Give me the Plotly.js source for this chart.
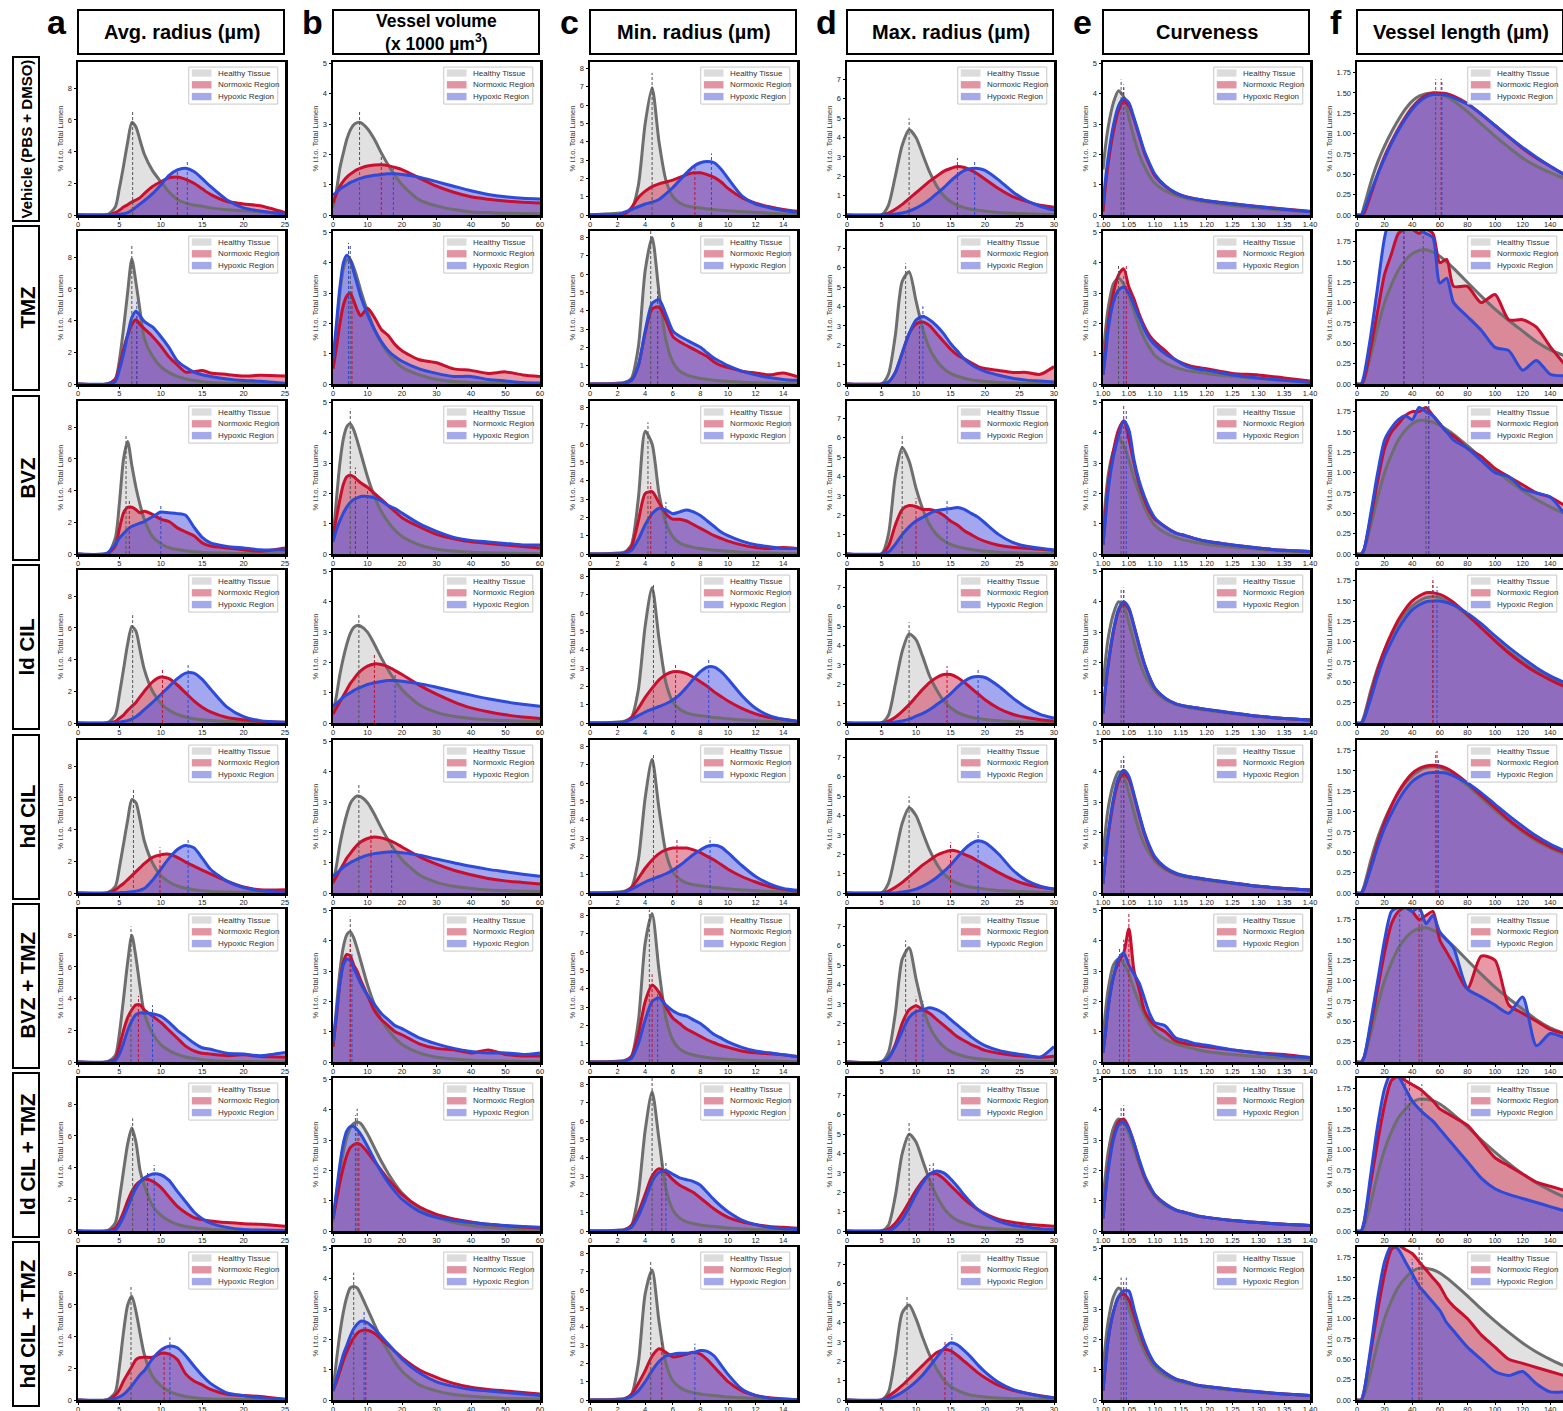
<!DOCTYPE html>
<html><head><meta charset="utf-8">
<script src="https://cdn.plot.ly/plotly-3.0.1.min.js"></script>
<style>html,body{margin:0;padding:0;overflow:hidden;background:#fff}</style>
</head><body><div id="chart"></div>
<script>
// ---------------- labels ----------------
const rowLabels = ["Vehicle (PBS + DMSO)", "TMZ", "BVZ", "ld CIL", "hd CIL", "BVZ + TMZ", "ld CIL + TMZ", "hd CIL + TMZ"];
const colTitles = ["Avg. radius (µm)", "Vessel volume<br>(x 1000 µm<sup>3</sup>)", "Min. radius (µm)", "Max. radius (µm)", "Curveness", "Vessel length (µm)"];
const colLetters = ["a", "b", "c", "d", "e", "f"];
const seriesNames = ["Healthy Tissue", "Normoxic Region", "Hypoxic Region"];
const yTitle = "% i.t.o. Total Lumen";

// ---------------- a: Avg. radius ----------------
const avgRadiusX = [0, 3.5, 4.5, 5, 5.5, 6, 6.5, 7, 7.5, 8, 9, 10, 11, 12, 13, 14, 15, 16, 18, 20, 22, 25];
const avgRadiusHealthy = [
  [0,0,0.5,1.7,3.1,4.6,5.85,5.55,4.7,3.85,2.8,2.1,1.45,0.98,0.75,0.62,0.55,0.45,0.33,0.27,0.2,0.1],
  [0,0,0.3,1.5,3.5,5.8,7.9,6.4,4.6,2.9,1.75,1.1,0.72,0.48,0.32,0.22,0.15,0.1,0.05,0.03,0.02,0.01],
  [0,0,1.0,3.2,6.0,7.1,5.6,4.2,3.1,2.2,1.1,0.65,0.4,0.28,0.2,0.14,0.1,0.08,0.05,0.03,0.02,0.01],
  [0,0,0.5,1.8,3.4,5.0,6.1,5.8,4.6,3.4,2.0,1.25,0.8,0.55,0.38,0.27,0.2,0.15,0.09,0.06,0.04,0.02],
  [0,0,0.4,1.6,3.1,4.6,5.9,5.7,4.6,3.3,1.9,1.1,0.7,0.45,0.3,0.2,0.15,0.1,0.06,0.04,0.03,0.02],
  [0,0,0.4,1.8,4.0,6.3,8.0,6.6,4.7,3.1,1.8,1.1,0.72,0.48,0.32,0.22,0.15,0.1,0.05,0.03,0.02,0.01],
  [0,0,0.5,2.0,3.8,5.5,6.5,5.6,3.8,2.9,1.6,1.0,0.65,0.42,0.28,0.2,0.14,0.1,0.06,0.04,0.03,0.02],
  [0,0,0.5,2.1,4.3,6.0,6.55,5.6,4.2,2.9,1.5,0.9,0.55,0.35,0.22,0.15,0.1,0.07,0.04,0.03,0.02,0.01]
];
const avgRadiusNormoxic = [
  [0,0,0.15,0.3,0.5,0.65,0.82,0.95,1.1,1.35,1.8,2.1,2.35,2.4,2.25,2.0,1.65,1.3,0.85,0.7,0.58,0.15],
  [0,0,0.3,1.1,2.2,3.1,3.75,4.05,3.75,3.5,3.0,2.4,1.7,1.2,0.75,0.78,0.85,0.7,0.6,0.5,0.55,0.5],
  [0,0,0.5,1.6,2.6,2.95,2.95,2.8,2.6,2.7,2.5,2.2,2.05,1.65,1.4,1.15,0.7,0.5,0.38,0.27,0.17,0.38],
  [0,0,0.1,0.3,0.5,0.8,1.05,1.3,1.65,2.0,2.6,2.9,2.8,2.4,1.9,1.4,1.0,0.7,0.35,0.2,0.1,0.05],
  [0,0,0.2,0.4,0.6,0.85,1.1,1.35,1.6,1.85,2.25,2.42,2.45,2.25,1.95,1.7,1.45,1.2,0.75,0.38,0.2,0.2],
  [0,0,0.2,1.0,2.0,2.8,3.3,3.6,3.6,3.3,2.9,2.5,2.0,1.5,1.0,0.7,0.55,0.5,0.4,0.45,0.35,0.3],
  [0,0,0.2,0.6,1.2,1.9,2.5,2.9,3.15,3.28,3.15,2.75,2.15,1.55,1.15,0.85,0.72,0.63,0.53,0.46,0.42,0.3],
  [0,0,0.3,0.65,1.2,1.65,2.1,2.55,2.68,2.7,2.7,2.95,2.9,2.55,1.65,1.2,0.95,0.67,0.36,0.29,0.22,0.05]
];
const avgRadiusHypoxic = [
  [0.02,0.02,0.03,0.05,0.08,0.15,0.3,0.5,0.7,0.9,1.35,1.9,2.5,2.85,2.95,2.75,2.3,1.8,0.95,0.45,0.25,0.05],
  [0,0,0.15,0.9,1.9,3.1,4.2,4.6,4.3,3.95,3.6,3.0,2.3,1.45,1.05,0.75,0.58,0.48,0.32,0.22,0.18,0.05],
  [0,0.05,0.6,1.0,1.3,1.55,1.75,1.85,1.95,2.05,2.35,2.65,2.6,2.55,2.45,1.7,1.05,0.7,0.48,0.38,0.27,0.25],
  [0,0,0.02,0.05,0.1,0.15,0.25,0.4,0.6,0.85,1.3,1.8,2.3,2.8,3.15,3.15,2.75,2.15,1.0,0.4,0.15,0.05],
  [0,0,0,0.02,0.03,0.05,0.08,0.12,0.18,0.28,0.8,1.5,2.2,2.75,3.0,2.85,2.2,1.5,0.75,0.35,0.15,0.05],
  [0,0,0.1,0.5,1.2,2.0,2.6,3.0,3.1,3.1,3.05,2.9,2.5,2.0,1.6,1.2,0.9,0.8,0.55,0.5,0.4,0.6],
  [0,0,0.05,0.4,0.9,1.5,2.15,2.7,3.1,3.35,3.6,3.55,3.2,2.5,1.85,1.2,0.78,0.5,0.23,0.1,0.06,0.03],
  [0,0,0.08,0.2,0.35,0.6,0.9,1.25,1.6,1.85,2.6,3.15,3.4,3.3,2.8,2.15,1.55,1.05,0.45,0.27,0.15,0.04]
];
const avgRadiusMedians = [[6.6,12.0,13.2],[6.5,7.1,7.1],[5.8,6.2,10.0],[6.6,10.2,13.3],[6.7,9.9,13.3],[6.4,7.3,9.0],[6.6,8.4,9.2],[6.4,10.4,11.1]];

// ---------------- b: Vessel volume ----------------
const volumeX = [0, 1, 2, 3, 4, 5, 6, 7, 8, 10, 12, 14, 16, 18, 20, 25, 30, 35, 40, 45, 50, 55, 60];
const volumeHealthy = [
  [0.25,0.8,1.55,2.05,2.5,2.8,2.98,3.05,3.05,2.85,2.5,2.05,1.65,1.3,1.0,0.5,0.3,0.18,0.1,0.08,0.06,0.05,0.04],
  [0.5,1.8,3.0,3.8,4.1,4.1,3.85,3.5,3.1,2.4,1.8,1.35,1.0,0.75,0.55,0.3,0.15,0.08,0.05,0.03,0.02,0.01,0.01],
  [0.5,1.8,3.0,3.8,4.2,4.3,4.1,3.75,3.35,2.55,1.9,1.4,1.05,0.78,0.58,0.3,0.16,0.1,0.06,0.04,0.03,0.02,0.01],
  [0.3,0.9,1.6,2.15,2.6,2.95,3.15,3.22,3.2,3.0,2.6,2.15,1.75,1.4,1.1,0.6,0.35,0.22,0.15,0.1,0.08,0.06,0.05],
  [0.3,0.9,1.6,2.15,2.6,2.95,3.12,3.2,3.18,2.98,2.6,2.15,1.75,1.4,1.1,0.6,0.35,0.22,0.15,0.1,0.08,0.06,0.05],
  [0.5,1.8,3.0,3.8,4.2,4.3,4.1,3.75,3.35,2.55,1.9,1.4,1.05,0.78,0.58,0.3,0.16,0.1,0.06,0.04,0.03,0.02,0.01],
  [0.3,1.2,2.0,2.6,3.1,3.4,3.55,3.6,3.55,3.2,2.75,2.3,1.9,1.55,1.25,0.75,0.45,0.28,0.18,0.12,0.08,0.05,0.04],
  [0.3,1.3,2.2,2.9,3.4,3.7,3.75,3.7,3.5,3.0,2.5,2.0,1.6,1.25,0.95,0.5,0.3,0.18,0.12,0.08,0.05,0.04,0.03]
];
const volumeNormoxic = [
  [0.4,0.7,0.95,1.12,1.25,1.35,1.43,1.5,1.55,1.62,1.65,1.66,1.63,1.57,1.5,1.22,0.95,0.75,0.6,0.52,0.46,0.42,0.4],
  [0.5,1.2,2.0,2.6,2.9,3.0,2.75,2.45,2.25,2.5,2.2,1.8,1.6,1.3,1.1,0.8,0.7,0.5,0.45,0.35,0.4,0.3,0.25],
  [0.6,1.2,1.8,2.3,2.55,2.6,2.55,2.45,2.35,2.2,2.0,1.8,1.6,1.4,1.2,0.9,0.65,0.5,0.4,0.35,0.3,0.25,0.2],
  [0.3,0.5,0.7,0.9,1.1,1.3,1.45,1.6,1.72,1.88,1.95,1.93,1.85,1.73,1.6,1.25,0.95,0.7,0.5,0.37,0.27,0.2,0.15],
  [0.35,0.55,0.75,0.95,1.15,1.3,1.45,1.58,1.68,1.8,1.85,1.82,1.75,1.65,1.52,1.2,0.95,0.75,0.6,0.48,0.4,0.35,0.3],
  [0.5,1.5,2.6,3.3,3.55,3.5,3.2,3.0,2.7,2.2,1.7,1.4,1.2,1.0,0.9,0.6,0.45,0.4,0.3,0.4,0.25,0.2,0.2],
  [0.4,1.0,1.6,2.1,2.5,2.75,2.85,2.9,2.85,2.6,2.3,2.0,1.7,1.45,1.2,0.8,0.55,0.4,0.3,0.22,0.17,0.13,0.1],
  [0.3,0.6,0.95,1.3,1.6,1.85,2.05,2.2,2.28,2.3,2.2,2.0,1.8,1.6,1.4,1.0,0.75,0.55,0.42,0.35,0.3,0.25,0.2]
];
const volumeHypoxic = [
  [0.65,0.75,0.85,0.93,1.0,1.07,1.12,1.17,1.21,1.27,1.31,1.34,1.36,1.36,1.34,1.25,1.1,0.95,0.8,0.68,0.6,0.55,0.53],
  [0.8,2.0,3.2,4.0,4.25,4.1,3.7,3.3,2.9,2.3,1.8,1.4,1.1,0.9,0.75,0.5,0.35,0.25,0.25,0.15,0.1,0.05,0.03],
  [0.4,0.8,1.1,1.35,1.55,1.7,1.8,1.85,1.9,1.9,1.85,1.75,1.6,1.5,1.35,1.0,0.75,0.55,0.45,0.4,0.35,0.3,0.3],
  [0.55,0.65,0.75,0.85,0.93,1.0,1.07,1.13,1.18,1.27,1.33,1.37,1.4,1.4,1.38,1.3,1.18,1.05,0.92,0.8,0.7,0.62,0.55],
  [0.55,0.65,0.75,0.85,0.93,1.0,1.06,1.12,1.17,1.25,1.3,1.33,1.35,1.35,1.33,1.25,1.12,1.0,0.88,0.78,0.7,0.62,0.55],
  [0.6,1.6,2.6,3.2,3.4,3.35,3.1,2.85,2.6,2.2,1.9,1.6,1.4,1.2,1.1,0.8,0.6,0.45,0.35,0.3,0.3,0.25,0.3],
  [0.4,1.3,2.2,2.9,3.3,3.45,3.45,3.35,3.2,2.8,2.35,1.95,1.6,1.3,1.05,0.65,0.45,0.35,0.28,0.22,0.18,0.15,0.12],
  [0.3,0.7,1.1,1.5,1.8,2.1,2.35,2.5,2.6,2.55,2.35,2.1,1.85,1.6,1.35,0.9,0.6,0.45,0.35,0.3,0.25,0.2,0.15]
];
const volumeMedians = [[7.7,14,17.5],[5,5.5,4.5],[5,6.5,10],[7.5,12,18],[7.5,11,17],[5,5,5.5],[7,7.5,6.5],[6,9.5,9]];

// ---------------- c: Min. radius ----------------
const minRadiusX = [0, 1, 2, 2.5, 3, 3.5, 4, 4.5, 5, 5.5, 6, 6.5, 7, 7.5, 8, 8.5, 9, 9.5, 10, 11, 12, 13, 14, 15];
const minRadiusHealthy = [
  [0,0.05,0.1,0.12,0.3,1.6,5.0,6.95,4.0,1.9,1.0,0.65,0.5,0.43,0.38,0.33,0.3,0.26,0.23,0.18,0.14,0.1,0.06,0.04],
  [0,0,0.05,0.08,0.3,2.0,6.2,8.0,5.0,2.4,1.2,0.7,0.5,0.38,0.3,0.25,0.2,0.17,0.14,0.1,0.07,0.05,0.03,0.02],
  [0,0,0.05,0.1,0.5,3.0,6.7,6.0,3.3,1.7,0.95,0.6,0.45,0.36,0.3,0.25,0.21,0.18,0.15,0.1,0.07,0.05,0.03,0.02],
  [0,0,0.05,0.1,0.3,1.8,5.3,7.4,4.6,2.2,1.15,0.75,0.55,0.45,0.4,0.35,0.3,0.27,0.23,0.17,0.12,0.08,0.05,0.03],
  [0,0,0.05,0.1,0.3,1.8,5.2,7.3,4.6,2.2,1.15,0.75,0.55,0.45,0.4,0.35,0.3,0.27,0.23,0.17,0.12,0.08,0.05,0.03],
  [0,0,0.05,0.08,0.3,2.2,6.5,8.1,5.0,2.4,1.2,0.7,0.5,0.38,0.3,0.25,0.2,0.17,0.14,0.1,0.07,0.05,0.03,0.02],
  [0,0,0.05,0.08,0.3,2.0,5.5,7.6,5.0,2.3,1.15,0.7,0.5,0.4,0.33,0.28,0.24,0.2,0.17,0.12,0.08,0.05,0.03,0.02],
  [0,0,0.05,0.08,0.3,2.0,5.8,7.1,4.3,2.0,1.05,0.7,0.5,0.4,0.33,0.28,0.24,0.2,0.17,0.12,0.08,0.05,0.03,0.02]
];
const minRadiusNormoxic = [
  [0,0,0,0.05,0.4,0.95,1.3,1.55,1.7,1.8,1.9,2.05,2.2,2.3,2.3,2.2,2.05,1.8,1.45,0.95,0.65,0.45,0.3,0.2],
  [0,0,0,0.05,0.2,1.0,2.8,4.1,4.2,3.5,2.6,2.3,2.1,1.9,1.7,1.5,1.2,1.0,0.9,0.7,0.6,0.5,0.6,0.4],
  [0,0,0,0.05,0.4,1.8,3.3,3.4,2.8,2.2,1.9,1.9,1.8,1.6,1.4,1.2,1.0,0.85,0.7,0.5,0.35,0.3,0.35,0.3],
  [0,0,0,0.05,0.3,0.8,1.4,1.9,2.35,2.65,2.8,2.8,2.7,2.5,2.25,2.0,1.7,1.45,1.2,0.8,0.5,0.3,0.2,0.1],
  [0,0,0,0.05,0.3,0.8,1.35,1.8,2.15,2.35,2.45,2.45,2.45,2.35,2.2,2.0,1.8,1.55,1.3,0.9,0.6,0.35,0.2,0.1],
  [0,0,0,0.05,0.3,1.5,3.3,4.2,3.8,3.0,2.4,2.1,1.8,1.6,1.4,1.2,1.05,0.9,0.8,0.6,0.5,0.45,0.4,0.3],
  [0,0,0,0.05,0.3,1.0,2.0,3.0,3.4,3.2,2.8,2.5,2.3,2.1,1.8,1.5,1.2,0.95,0.75,0.5,0.35,0.25,0.2,0.15],
  [0,0,0,0.05,0.3,0.9,1.6,2.4,2.8,2.6,2.35,2.4,2.5,2.6,2.5,2.2,1.8,1.4,1.0,0.5,0.25,0.12,0.06,0.03]
];
const minRadiusHypoxic = [
  [0,0,0,0.15,0.3,0.45,0.6,0.7,0.85,1.15,1.5,1.9,2.3,2.65,2.85,2.92,2.85,2.5,2.0,1.05,0.6,0.4,0.25,0.15],
  [0,0,0,0.05,0.2,1.0,2.9,4.4,4.6,3.8,2.9,2.6,2.4,2.2,2.0,1.7,1.4,1.2,1.0,0.7,0.5,0.35,0.25,0.2],
  [0,0,0,0.05,0.2,0.8,1.6,2.2,2.5,2.4,2.2,2.3,2.4,2.3,2.1,1.8,1.5,1.2,1.0,0.7,0.5,0.4,0.3,0.3],
  [0,0,0,0.05,0.2,0.4,0.6,0.75,0.9,1.05,1.25,1.55,1.95,2.4,2.8,3.05,3.05,2.8,2.4,1.5,0.8,0.4,0.2,0.1],
  [0,0,0,0.05,0.2,0.4,0.6,0.75,0.9,1.05,1.25,1.5,1.8,2.1,2.35,2.55,2.6,2.5,2.2,1.5,0.9,0.5,0.25,0.15],
  [0,0,0,0.05,0.2,1.0,2.3,3.3,3.5,3.1,2.8,2.6,2.5,2.3,2.1,1.8,1.5,1.3,1.1,0.8,0.6,0.5,0.4,0.3],
  [0,0,0,0.05,0.2,0.8,1.7,2.7,3.2,3.3,3.1,2.9,2.8,2.7,2.5,2.1,1.7,1.35,1.05,0.6,0.35,0.2,0.12,0.08],
  [0,0,0,0.05,0.2,0.5,1.0,1.6,2.1,2.4,2.5,2.55,2.55,2.6,2.7,2.65,2.4,1.9,1.4,0.6,0.25,0.1,0.05,0.02]
];
const minRadiusMedians = [[4.5,7.6,8.8],[4.4,4.9,4.9],[4.2,4.4,5.5],[4.6,6.2,8.6],[4.6,6.3,8.7],[4.3,4.5,4.9],[4.5,5.2,5.5],[4.4,5.2,7.6]];

// ---------------- d: Max. radius ----------------
const maxRadiusX = [0, 5, 6, 7, 8, 9, 10, 11, 12, 13, 14, 15, 16, 17, 18, 19, 20, 22, 24, 26, 28, 30];
const maxRadiusHealthy = [
  [0,0,0.5,2.0,3.6,4.4,4.0,3.1,2.2,1.5,1.0,0.7,0.5,0.38,0.3,0.24,0.2,0.13,0.09,0.06,0.04,0.03],
  [0,0,0.5,2.5,5.3,5.8,4.3,2.8,1.8,1.2,0.8,0.55,0.4,0.3,0.22,0.17,0.13,0.08,0.05,0.03,0.02,0.01],
  [0,0,1.0,4.0,5.5,4.8,3.4,2.3,1.5,1.0,0.7,0.5,0.38,0.3,0.23,0.18,0.14,0.09,0.06,0.04,0.03,0.02],
  [0,0,0.4,2.0,3.7,4.6,4.3,3.4,2.4,1.7,1.15,0.8,0.55,0.4,0.3,0.23,0.18,0.11,0.07,0.05,0.03,0.02],
  [0,0,0.5,2.0,3.6,4.4,4.0,3.1,2.2,1.5,1.0,0.7,0.5,0.38,0.3,0.24,0.2,0.13,0.09,0.06,0.04,0.03],
  [0,0,0.5,2.5,5.3,5.9,4.3,2.8,1.8,1.2,0.8,0.55,0.4,0.3,0.22,0.17,0.13,0.08,0.05,0.03,0.02,0.01],
  [0,0,0.3,1.8,4.0,5.0,4.6,3.6,2.6,1.8,1.2,0.8,0.55,0.4,0.3,0.22,0.17,0.1,0.06,0.04,0.03,0.02],
  [0,0,0.4,2.3,4.5,4.9,4.2,3.2,2.3,1.6,1.05,0.7,0.5,0.35,0.25,0.2,0.15,0.1,0.07,0.05,0.03,0.02]
];
const maxRadiusNormoxic = [
  [0,0,0.1,0.3,0.55,0.85,1.15,1.45,1.75,2.0,2.25,2.4,2.5,2.45,2.3,2.1,1.85,1.35,0.95,0.7,0.5,0.4],
  [0,0,0.1,0.6,1.6,2.6,3.1,3.2,3.0,2.6,2.2,1.8,1.5,1.3,1.1,0.9,0.8,0.7,0.6,0.6,0.5,0.9],
  [0,0,0.4,1.5,2.3,2.5,2.45,2.3,2.3,2.2,2.0,1.7,1.5,1.2,1.0,0.8,0.65,0.45,0.35,0.3,0.25,0.2],
  [0,0,0.1,0.3,0.6,0.95,1.35,1.75,2.1,2.35,2.5,2.5,2.35,2.1,1.8,1.5,1.2,0.75,0.45,0.28,0.17,0.1],
  [0,0,0.1,0.3,0.55,0.85,1.15,1.45,1.7,1.95,2.1,2.2,2.15,2.0,1.85,1.65,1.45,1.05,0.7,0.45,0.3,0.2],
  [0,0,0.2,0.9,2.0,2.7,2.9,2.7,2.5,2.2,1.9,1.6,1.3,1.1,0.9,0.75,0.6,0.45,0.35,0.3,0.25,0.3],
  [0,0,0.1,0.4,0.9,1.5,2.1,2.6,2.95,2.95,2.7,2.35,2.0,1.65,1.35,1.1,0.9,0.6,0.45,0.35,0.3,0.25],
  [0,0,0.2,0.45,0.75,1.1,1.45,1.8,2.15,2.45,2.6,2.55,2.3,2.0,1.7,1.4,1.15,0.75,0.5,0.35,0.22,0.12]
];
const maxRadiusHypoxic = [
  [0,0,0,0.05,0.1,0.2,0.35,0.55,0.8,1.1,1.4,1.75,2.05,2.3,2.4,2.4,2.3,1.8,1.2,0.75,0.45,0.25],
  [0,0,0.1,0.6,1.6,2.6,3.3,3.5,3.3,3.0,2.6,2.1,1.7,1.3,1.0,0.8,0.65,0.45,0.3,0.2,0.15,0.1],
  [0,0,0.1,0.5,1.0,1.4,1.7,1.9,2.1,2.25,2.3,2.35,2.4,2.3,2.1,1.9,1.6,1.0,0.6,0.4,0.3,0.2],
  [0,0,0,0.05,0.1,0.2,0.35,0.5,0.7,0.95,1.2,1.5,1.85,2.15,2.35,2.4,2.35,1.9,1.3,0.8,0.45,0.25],
  [0,0,0,0,0.05,0.1,0.2,0.35,0.55,0.8,1.1,1.45,1.85,2.25,2.55,2.7,2.6,2.0,1.2,0.65,0.35,0.2],
  [0,0,0.2,0.8,1.6,2.3,2.6,2.7,2.8,2.7,2.5,2.2,1.9,1.6,1.3,1.05,0.85,0.6,0.45,0.35,0.25,0.8],
  [0,0,0,0.2,0.6,1.2,1.9,2.5,2.95,3.1,3.0,2.7,2.3,1.85,1.45,1.1,0.85,0.5,0.3,0.2,0.12,0.08],
  [0,0,0.05,0.2,0.4,0.65,0.95,1.3,1.75,2.2,2.65,2.95,2.85,2.55,2.2,1.8,1.45,0.9,0.55,0.35,0.2,0.1]
];
const maxRadiusMedians = [[9,16,18.5],[8.5,10.5,11],[8,10,14.5],[9,14.5,19],[9,15,19],[8.5,10,11],[9,12,12.5],[8.7,14.2,15.2]];

// ---------------- e: Curveness ----------------
const curvenessX = [1.0, 1.005, 1.01, 1.02, 1.03, 1.04, 1.05, 1.06, 1.07, 1.08, 1.09, 1.10, 1.12, 1.14, 1.16, 1.18, 1.20, 1.25, 1.30, 1.35, 1.40];
const curvenessHealthy = [
  [1.5,2.3,2.9,3.7,4.1,3.9,3.2,2.55,2.0,1.6,1.28,1.05,0.8,0.65,0.55,0.48,0.43,0.31,0.22,0.16,0.11],
  [0.8,1.8,2.5,3.3,3.5,3.3,2.9,2.4,1.9,1.5,1.2,0.95,0.7,0.55,0.45,0.4,0.35,0.25,0.18,0.12,0.08],
  [0.8,1.8,2.6,3.4,3.8,3.6,3.1,2.5,2.0,1.55,1.2,0.95,0.7,0.55,0.45,0.38,0.32,0.22,0.15,0.1,0.06],
  [1.2,2.1,2.8,3.6,4.0,3.85,3.3,2.65,2.05,1.6,1.3,1.05,0.78,0.62,0.53,0.47,0.42,0.31,0.22,0.15,0.1],
  [1.2,2.1,2.8,3.6,4.0,3.85,3.3,2.65,2.05,1.6,1.3,1.05,0.78,0.62,0.53,0.47,0.42,0.31,0.22,0.15,0.1],
  [0.8,1.7,2.4,3.2,3.4,3.25,2.9,2.4,1.95,1.55,1.25,1.0,0.75,0.6,0.5,0.42,0.35,0.25,0.18,0.12,0.08],
  [1.0,1.9,2.6,3.4,3.7,3.6,3.2,2.7,2.2,1.75,1.4,1.15,0.85,0.7,0.6,0.52,0.45,0.35,0.28,0.22,0.18],
  [1.0,1.9,2.6,3.4,3.7,3.5,3.0,2.5,2.0,1.6,1.3,1.05,0.8,0.65,0.55,0.48,0.42,0.32,0.25,0.2,0.15]
];
const curvenessNormoxic = [
  [0.1,1.0,1.7,2.75,3.45,3.75,3.6,3.15,2.6,2.05,1.65,1.3,0.95,0.72,0.6,0.53,0.47,0.37,0.28,0.2,0.12],
  [0.3,1.2,2.0,3.0,3.6,3.8,3.2,2.8,2.3,1.9,1.6,1.4,1.1,0.8,0.65,0.55,0.5,0.35,0.3,0.2,0.1],
  [0.3,1.4,2.3,3.4,4.1,4.4,3.8,3.0,2.3,1.8,1.4,1.15,0.9,0.7,0.6,0.5,0.42,0.3,0.2,0.12,0.08],
  [0.3,1.2,1.9,3.0,3.7,3.95,3.75,3.2,2.55,1.95,1.5,1.15,0.82,0.64,0.55,0.5,0.45,0.33,0.22,0.15,0.1],
  [0.3,1.2,1.9,3.0,3.7,3.95,3.75,3.2,2.55,1.95,1.5,1.15,0.82,0.64,0.55,0.5,0.45,0.33,0.22,0.15,0.1],
  [0.3,1.0,1.8,2.8,3.3,3.6,4.4,3.0,2.4,1.7,1.4,1.2,1.0,0.7,0.6,0.55,0.5,0.4,0.3,0.25,0.15],
  [0.4,1.3,2.1,3.1,3.6,3.7,3.4,2.9,2.3,1.8,1.45,1.2,0.9,0.7,0.6,0.5,0.45,0.35,0.28,0.22,0.18],
  [0.3,1.2,2.0,2.9,3.4,3.5,3.3,2.8,2.3,1.8,1.45,1.2,0.9,0.7,0.6,0.5,0.45,0.35,0.27,0.2,0.15]
];
const curvenessHypoxic = [
  [0.3,1.2,1.9,2.95,3.6,3.85,3.7,3.2,2.65,2.1,1.7,1.35,0.97,0.74,0.6,0.53,0.47,0.37,0.27,0.19,0.11],
  [0.3,1.0,1.8,2.7,3.1,3.2,3.0,2.6,2.2,1.8,1.5,1.3,1.0,0.8,0.6,0.5,0.45,0.3,0.2,0.12,0.05],
  [0.3,1.2,2.1,3.2,3.9,4.4,4.1,3.1,2.4,1.9,1.5,1.2,0.9,0.7,0.6,0.5,0.42,0.3,0.2,0.12,0.08],
  [0.3,1.2,1.95,3.05,3.75,4.0,3.8,3.2,2.55,1.95,1.5,1.15,0.82,0.64,0.55,0.5,0.45,0.33,0.22,0.15,0.1],
  [0.3,1.2,1.95,3.1,3.8,4.05,3.85,3.25,2.6,2.0,1.55,1.2,0.85,0.66,0.56,0.5,0.45,0.33,0.22,0.15,0.1],
  [0.3,1.0,1.8,2.8,3.4,3.6,3.2,2.9,2.6,2.1,1.6,1.3,1.2,0.8,0.7,0.6,0.55,0.4,0.3,0.2,0.15],
  [0.4,1.3,2.0,3.0,3.5,3.6,3.35,2.9,2.35,1.85,1.5,1.2,0.9,0.7,0.6,0.5,0.45,0.35,0.28,0.22,0.18],
  [0.3,1.2,2.0,2.9,3.4,3.6,3.6,3.0,2.4,1.9,1.5,1.2,0.9,0.7,0.6,0.5,0.45,0.35,0.27,0.2,0.15]
];
const curvenessMedians = [[1.035,1.04,1.04],[1.03,1.045,1.04],[1.035,1.04,1.045],[1.035,1.04,1.04],[1.035,1.04,1.04],[1.032,1.05,1.04],[1.035,1.04,1.04],[1.035,1.04,1.045]];

// ---------------- f: Vessel length ----------------
const lengthX = [0, 3, 5, 10, 15, 20, 25, 30, 35, 40, 45, 50, 55, 60, 65, 70, 80, 90, 100, 110, 120, 130, 140, 150];
const lengthHealthy = [
  [0,0,0.1,0.4,0.65,0.85,1.02,1.17,1.3,1.4,1.46,1.49,1.5,1.48,1.45,1.4,1.27,1.12,0.97,0.83,0.7,0.6,0.52,0.45],
  [0,0,0.05,0.35,0.7,1.0,1.22,1.4,1.52,1.6,1.64,1.65,1.62,1.57,1.5,1.42,1.25,1.08,0.92,0.78,0.65,0.52,0.42,0.35],
  [0,0,0.05,0.35,0.7,1.0,1.22,1.4,1.52,1.6,1.64,1.64,1.62,1.58,1.53,1.47,1.33,1.18,1.03,0.9,0.78,0.67,0.58,0.5],
  [0,0,0.08,0.4,0.68,0.9,1.08,1.23,1.35,1.44,1.5,1.54,1.55,1.54,1.5,1.45,1.32,1.17,1.02,0.88,0.75,0.64,0.55,0.48],
  [0,0,0.08,0.4,0.68,0.9,1.08,1.23,1.35,1.44,1.5,1.54,1.55,1.54,1.5,1.45,1.32,1.17,1.02,0.88,0.75,0.64,0.55,0.48],
  [0,0,0.05,0.35,0.7,1.0,1.22,1.4,1.52,1.6,1.64,1.65,1.62,1.57,1.5,1.42,1.25,1.08,0.92,0.78,0.65,0.52,0.42,0.35],
  [0,0,0.05,0.35,0.7,1.0,1.22,1.39,1.5,1.58,1.62,1.62,1.6,1.56,1.5,1.43,1.28,1.12,0.97,0.83,0.7,0.59,0.5,0.42],
  [0,0,0.05,0.35,0.7,1.0,1.22,1.39,1.5,1.58,1.62,1.62,1.6,1.56,1.5,1.43,1.28,1.12,0.97,0.83,0.7,0.59,0.5,0.42]
];
const lengthNormoxic = [
  [0,0,0.02,0.25,0.5,0.72,0.9,1.06,1.2,1.32,1.41,1.47,1.5,1.5,1.49,1.46,1.37,1.24,1.1,0.96,0.82,0.7,0.6,0.5],
  [0,0,0.05,0.45,0.9,1.35,1.6,1.85,1.9,1.9,1.85,1.9,1.85,1.49,1.53,1.2,1.2,1.0,1.1,0.79,0.79,0.7,0.46,0.25],
  [0,0,0.05,0.45,0.9,1.3,1.5,1.6,1.7,1.75,1.75,1.8,1.7,1.6,1.5,1.45,1.3,1.2,1.05,0.95,0.85,0.75,0.7,0.6],
  [0,0,0.05,0.35,0.65,0.9,1.1,1.27,1.4,1.5,1.56,1.6,1.6,1.58,1.54,1.48,1.33,1.17,1.01,0.86,0.73,0.62,0.53,0.45],
  [0,0,0.05,0.33,0.62,0.87,1.07,1.24,1.37,1.47,1.53,1.56,1.57,1.56,1.53,1.48,1.35,1.2,1.05,0.9,0.77,0.66,0.57,0.5],
  [0,0,0.05,0.45,0.9,1.35,1.7,1.85,1.9,1.85,1.75,1.8,1.85,1.5,1.35,1.2,0.9,1.3,1.25,0.7,0.6,0.5,0.4,0.35],
  [0,0,0.1,0.6,1.1,1.55,1.85,1.9,1.85,1.8,1.75,1.68,1.6,1.5,1.45,1.4,1.3,1.1,0.9,0.8,0.7,0.6,0.55,0.5],
  [0,0,0.1,0.6,1.1,1.55,1.85,1.9,1.85,1.8,1.7,1.6,1.5,1.4,1.25,1.15,1.0,0.8,0.65,0.5,0.45,0.4,0.35,0.3]
];
const lengthHypoxic = [
  [0,0,0.05,0.28,0.5,0.7,0.88,1.04,1.18,1.3,1.39,1.45,1.48,1.48,1.47,1.44,1.36,1.24,1.1,0.96,0.83,0.71,0.6,0.5],
  [0,0,0.1,0.6,1.2,1.8,2.1,2.2,2.1,2.0,1.9,1.85,1.8,1.24,1.3,1.0,0.83,0.66,0.45,0.41,0.17,0.29,0.12,0.1],
  [0,0,0.05,0.5,1.0,1.4,1.55,1.65,1.7,1.65,1.8,1.75,1.7,1.6,1.5,1.4,1.3,1.15,1.0,0.95,0.8,0.75,0.7,0.5],
  [0,0,0.05,0.3,0.58,0.82,1.0,1.16,1.29,1.39,1.45,1.49,1.5,1.5,1.48,1.45,1.35,1.22,1.07,0.93,0.8,0.68,0.58,0.5],
  [0,0,0.05,0.3,0.57,0.8,0.98,1.14,1.27,1.37,1.43,1.47,1.48,1.48,1.47,1.44,1.35,1.23,1.09,0.95,0.82,0.7,0.6,0.52],
  [0,0,0.05,0.5,1.0,1.5,1.85,1.9,1.9,1.85,1.9,1.7,1.8,1.6,1.5,1.4,0.9,0.8,0.7,0.6,0.8,0.2,0.35,0.3],
  [0,0,0.1,0.7,1.3,1.75,1.95,1.9,1.75,1.6,1.5,1.42,1.35,1.25,1.15,1.05,0.85,0.65,0.52,0.45,0.4,0.35,0.3,0.25],
  [0,0,0.1,0.65,1.25,1.7,1.9,1.85,1.7,1.55,1.4,1.3,1.2,1.1,0.95,0.85,0.65,0.5,0.35,0.3,0.35,0.2,0.1,0.1]
];
const lengthMedians = [[57,61,61.5],[48,34,34],[50,52,52],[55,55,58],[57,58,59],[47,45,31],[47,38,35],[47,45,40]];

// ---------------- axis settings ----------------
const xRanges = [[0,25],[0,60],[0,15],[0,30],[1.0,1.4],[0,150]];
const yRanges = [[0,9.66],[0,5.05],[0,8.35],[0,7.9],[0,5.05],[0,1.88]];
const xTicks = [[0,5,10,15,20,25],[0,10,20,30,40,50,60],[0,2,4,6,8,10,12,14],[0,5,10,15,20,25,30],[1.0,1.05,1.1,1.15,1.2,1.25,1.3,1.35,1.4],[0,20,40,60,80,100,120,140]];
const yTicks = [[0,2,4,6,8],[0,1,2,3,4,5],[0,1,2,3,4,5,6,7,8],[0,1,2,3,4,5,6,7],[0,1,2,3,4,5],[0,0.25,0.5,0.75,1.0,1.25,1.5,1.75]];
const xFormats = ["", "", "", "", ".2f", ""];
const yFormats = ["", "", "", "", "", ".2f"];

const columns = [
  {x: avgRadiusX, s: [avgRadiusHealthy, avgRadiusNormoxic, avgRadiusHypoxic], m: avgRadiusMedians},
  {x: volumeX, s: [volumeHealthy, volumeNormoxic, volumeHypoxic], m: volumeMedians},
  {x: minRadiusX, s: [minRadiusHealthy, minRadiusNormoxic, minRadiusHypoxic], m: minRadiusMedians},
  {x: maxRadiusX, s: [maxRadiusHealthy, maxRadiusNormoxic, maxRadiusHypoxic], m: maxRadiusMedians},
  {x: curvenessX, s: [curvenessHealthy, curvenessNormoxic, curvenessHypoxic], m: curvenessMedians},
  {x: lengthX, s: [lengthHealthy, lengthNormoxic, lengthHypoxic], m: lengthMedians}
];

// ---------------- styling ----------------
const W = 1570, H = 1411;
const colLeft = [78, 333, 590, 847, 1103, 1357];
const colWidth = 207;
const rowTop = [62, 231, 401, 570, 740, 909, 1078, 1247];
const rowHeight = 153;
const lineColors = ["#6e6e6e", "#c8102e", "#2d4bd8"];
const fillColors = ["rgba(180,180,180,0.40)", "rgba(210,50,80,0.50)", "rgba(70,80,225,0.50)"];
const patchColors = ["#dcdcdc", "#e394a3", "#a4aae9"];
const medianColors = ["#555555", "#c8102e", "#2d4bd8"];
const FONT = "Liberation Sans, Arial, Helvetica, sans-serif";

function interp(xs, ys, x) {
  for (let i = 0; i < xs.length - 1; i++) {
    if (x >= xs[i] && x <= xs[i+1]) {
      const t = (x - xs[i]) / (xs[i+1] - xs[i]);
      return ys[i] + t * (ys[i+1] - ys[i]);
    }
  }
  return 0;
}

const traces = [];
const shapes = [];
const annotations = [];
const layout = {
  width: W, height: H,
  margin: {l: 0, r: 0, t: 0, b: 0},
  paper_bgcolor: "#fff", plot_bgcolor: "#fff",
  showlegend: false,
  font: {family: FONT, color: "#222"}
};

const px = v => v / W;
const py = v => 1 - v / H;

columns.forEach((col, c) => {
  rowLabels.forEach((rl, r) => {
    const n = r * 6 + c + 1;
    const sfx = n === 1 ? "" : String(n);
    const xa = "x" + sfx, ya = "y" + sfx;
    layout["xaxis" + sfx] = {
      domain: [px(colLeft[c]), px(colLeft[c] + colWidth)],
      range: xRanges[c], anchor: ya,
      showline: true, mirror: true, linewidth: 2.5, linecolor: "#000",
      ticks: "outside", ticklen: 2, tickwidth: 1, tickcolor: "#000",
      ticklabelstandoff: -2,
      tickvals: xTicks[c], tickformat: xFormats[c],
      tickfont: {size: 7.5, color: "#222", family: FONT},
      showgrid: false, zeroline: false, fixedrange: true
    };
    layout["yaxis" + sfx] = {
      domain: [py(rowTop[r] + rowHeight), py(rowTop[r])],
      range: yRanges[c], anchor: xa,
      showline: true, mirror: true, linewidth: 2.5, linecolor: "#000",
      ticks: "outside", ticklen: 2, tickwidth: 1, tickcolor: "#000",
      tickvals: yTicks[c], tickformat: yFormats[c],
      tickfont: {size: 7.5, color: "#222", family: FONT},
      showgrid: false, zeroline: false, fixedrange: true,
      title: {text: yTitle, font: {size: 7.5, color: "#333", family: FONT}, standoff: 3}
    };
    for (let s = 0; s < 3; s++) {
      traces.push({
        type: "scatter", mode: "lines", x: col.x, y: col.s[s][r],
        xaxis: xa, yaxis: ya, fill: "tozeroy", fillcolor: fillColors[s],
        line: {width: 0, shape: "spline", smoothing: 0.7, color: fillColors[s]},
        hoverinfo: "skip", name: seriesNames[s]
      });
    }
    for (let s = 0; s < 3; s++) {
      traces.push({
        type: "scatter", mode: "lines", x: col.x, y: col.s[s][r],
        xaxis: xa, yaxis: ya,
        line: {width: 3, shape: "spline", smoothing: 0.7, color: lineColors[s]},
        hoverinfo: "skip", name: seriesNames[s]
      });
    }
    for (let s = 0; s < 3; s++) {
      const mx = col.m[r][s];
      const top = Math.min(interp(col.x, col.s[s][r], mx) * 1.08 + 0.03 * yRanges[c][1], yRanges[c][1]);
      shapes.push({
        type: "line", xref: xa, yref: ya, x0: mx, x1: mx, y0: 0, y1: top,
        line: {color: medianColors[s], width: 1, dash: "3px,2px"}
      });
    }
    shapes.push({
      type: "rect", xref: xa + " domain", yref: ya + " domain",
      x0: 0.535, x1: 0.965, y0: 0.725, y1: 0.967,
      fillcolor: "rgba(255,255,255,0.85)", line: {color: "#c8c8c8", width: 1}
    });
    const rowsY = [0.928, 0.851, 0.774];
    for (let s = 0; s < 3; s++) {
      shapes.push({
        type: "rect", xref: xa + " domain", yref: ya + " domain",
        x0: 0.55, x1: 0.645, y0: rowsY[s] - 0.024, y1: rowsY[s] + 0.024,
        fillcolor: patchColors[s], line: {width: 0}
      });
      annotations.push({
        xref: xa + " domain", yref: ya + " domain", x: 0.665, y: rowsY[s],
        xanchor: "left", yanchor: "middle", showarrow: false,
        text: seriesNames[s], font: {size: 8, color: "#333", family: FONT}
      });
    }
  });
  shapes.push({
    type: "rect", xref: "paper", yref: "paper",
    x0: px(colLeft[c]), x1: px(colLeft[c] + colWidth - 1), y0: py(54), y1: py(10),
    line: {color: "#000", width: 2}, fillcolor: "rgba(0,0,0,0)"
  });
  annotations.push({
    xref: "paper", yref: "paper", x: px(colLeft[c] + colWidth / 2), y: py(32),
    xanchor: "center", yanchor: "middle", showarrow: false,
    text: "<b>" + colTitles[c] + "</b>",
    font: {size: c === 1 ? 17.5 : 20, color: "#000", family: FONT}
  });
  annotations.push({
    xref: "paper", yref: "paper", x: px(colLeft[c] - 21), y: py(22),
    xanchor: "center", yanchor: "middle", showarrow: false,
    text: "<b>" + colLetters[c] + "</b>",
    font: {size: 34, color: "#000", family: FONT}
  });
});

rowLabels.forEach((rl, r) => {
  shapes.push({
    type: "rect", xref: "paper", yref: "paper",
    x0: px(13), x1: px(39), y0: py(rowTop[r] + 159), y1: py(rowTop[r] - 5),
    line: {color: "#000", width: 2}, fillcolor: "rgba(0,0,0,0)"
  });
  annotations.push({
    xref: "paper", yref: "paper", x: px(26.5), y: py(rowTop[r] + 77),
    xanchor: "center", yanchor: "middle", showarrow: false, textangle: -90,
    text: "<b>" + rl + "</b>",
    font: {size: r === 0 ? 15 : 20.5, color: "#000", family: FONT}
  });
});

layout.shapes = shapes;
layout.annotations = annotations;

Plotly.newPlot("chart", traces, layout, {staticPlot: true, displayModeBar: false});
</script></body></html>
